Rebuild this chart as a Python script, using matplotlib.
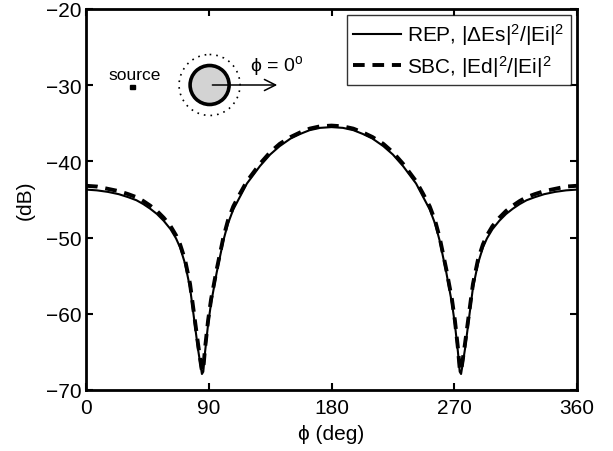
import matplotlib
matplotlib.use("Agg")
import matplotlib.pyplot as plt
from matplotlib.patches import Circle, Rectangle

plt.rcParams['font.family'] = ['Liberation Sans', 'DejaVu Sans']
plt.rcParams['mathtext.fontset'] = 'custom'
plt.rcParams['mathtext.rm'] = 'Liberation Sans'
plt.rcParams['mathtext.it'] = 'Liberation Sans:italic'

# values
phi = [0, 8, 16, 24, 31, 37, 42, 47, 52, 57, 62, 66, 69, 72.6, 76.3, 79.2, 82.1,
       84, 85, 86, 87.3, 89.5, 91.7, 95.8, 100.7, 104, 108, 113, 118, 127.6, 135,
       142, 150, 157, 164, 171.6, 180,
       188.4, 196, 203, 210, 218, 225, 232.4, 242, 247, 252, 256, 259.3, 264.2,
       268.3, 270.5, 272.7, 274, 275, 276, 277.9, 280.8, 283.7, 287.4, 291, 294,
       298, 303, 308, 313, 318, 323, 329, 336, 344, 352, 360]
rep_db = [-43.7, -43.8, -44.0, -44.3, -44.7, -45.1, -45.6, -46.2, -46.9, -47.8,
          -48.9, -50.1, -51.3, -53.4, -56.6, -60.6, -64.6, -66.8, -67.9, -67.6,
          -65.0, -61.4, -58.6, -54.6, -50.4, -48.2, -46.3, -44.6, -42.9, -40.6,
          -39.1, -38.0, -37.0, -36.4, -35.9, -35.6, -35.5,
          -35.6, -35.9, -36.4, -37.0, -38.0, -39.1, -40.6, -42.9, -44.6, -46.3,
          -48.2, -50.4, -54.6, -58.6, -61.4, -65.0, -67.6, -67.9, -66.8, -64.6,
          -60.6, -56.6, -53.4, -51.3, -50.1, -48.9, -47.8, -46.9, -46.2, -45.6,
          -45.1, -44.7, -44.3, -44.0, -43.8, -43.7]
sbc_db = [-43.2, -43.3, -43.6, -43.9, -44.3, -44.7, -45.2, -45.8, -46.5, -47.4,
          -48.5, -49.7, -50.9, -52.9, -56.1, -60.0, -63.9, -66.3, -67.5, -67.2,
          -64.5, -60.9, -58.1, -54.2, -50.0, -47.8, -45.9, -44.2, -42.6, -40.3,
          -38.8, -37.7, -36.8, -36.2, -35.7, -35.4, -35.3,
          -35.4, -35.7, -36.2, -36.8, -37.7, -38.8, -40.3, -42.6, -44.2, -45.9,
          -47.8, -50.0, -54.2, -58.1, -60.9, -64.5, -67.2, -67.5, -66.3, -63.9,
          -60.0, -56.1, -52.9, -50.9, -49.7, -48.5, -47.4, -46.5, -45.8, -45.2,
          -44.7, -44.3, -43.9, -43.6, -43.3, -43.2]
x_ticks = [0, 90, 180, 270, 360]
y_ticks = [-70, -60, -50, -40, -30, -20]

W, H = 613, 452
fig = plt.figure(figsize=(W / 100, H / 100), dpi=100)
ax = fig.add_axes([86 / W, 1 - 391 / H, 491 / W, 381 / H])

ax.plot(phi, rep_db, color="black", lw=1.5, label=r"REP, |$\Delta$Es|$^2$/|Ei|$^2$")
ax.plot(phi, sbc_db, color="black", lw=2.8, ls=(0, (3, 2)),
        label=r"SBC, |Ed|$^2$/|Ei|$^2$")

ax.set_xlim(0, 360)
ax.set_ylim(-70, -20)
ax.set_xticks(x_ticks)
ax.set_yticks(y_ticks)
ax.set_yticklabels(["\u221270", "\u221260", "\u221250", "\u221240", "\u221230", "\u221220"])
ax.tick_params(direction="in", length=5, width=1.5, top=True, right=True,
               labelsize=15)
ax.tick_params(axis="x", pad=6)
ax.tick_params(axis="y", pad=3)
for sp in ax.spines.values():
    sp.set_linewidth(2)
ax.set_xlabel("\u03d5 (deg)", fontsize=15, labelpad=5)
ax.set_ylabel("(dB)", fontsize=15, labelpad=8)

leg = ax.legend(loc="upper right", fontsize=15, frameon=True, fancybox=False,
                edgecolor="black", handlelength=2.3, handletextpad=0.3,
                borderpad=0.3, labelspacing=0.25, borderaxespad=0.3)
leg.get_frame().set_linewidth(1)

# inset sketch drawn in pixel units over the whole figure
ov = fig.add_axes([0, 0, 1, 1])
ov.set_xlim(0, W)
ov.set_ylim(H, 0)
ov.set_aspect("equal")
ov.axis("off")
ov.patch.set_alpha(0)
ov.text(135, 75, "source", fontsize=12.5, ha="center", va="center")
ov.add_patch(Rectangle((129.5, 85.5), 5.5, 4.5, color="black"))
ov.add_patch(Circle((209.6, 86), 30.5, fill=False, lw=1.2, ls=(0, (1, 3)), ec="black"))
ov.add_patch(Circle((209.6, 86), 19.5, fc="#d3d3d3", ec="black", lw=2.6))
ov.annotate("", xy=(280, 86), xytext=(209.6, 86),
            arrowprops=dict(arrowstyle="->", lw=1.1, color="black",
                            mutation_scale=20))
ov.text(277, 66, "\u03d5 = 0$^{\\mathrm{o}}$", fontsize=14, ha="center", va="center")

fig.savefig("out.png", dpi=100)
